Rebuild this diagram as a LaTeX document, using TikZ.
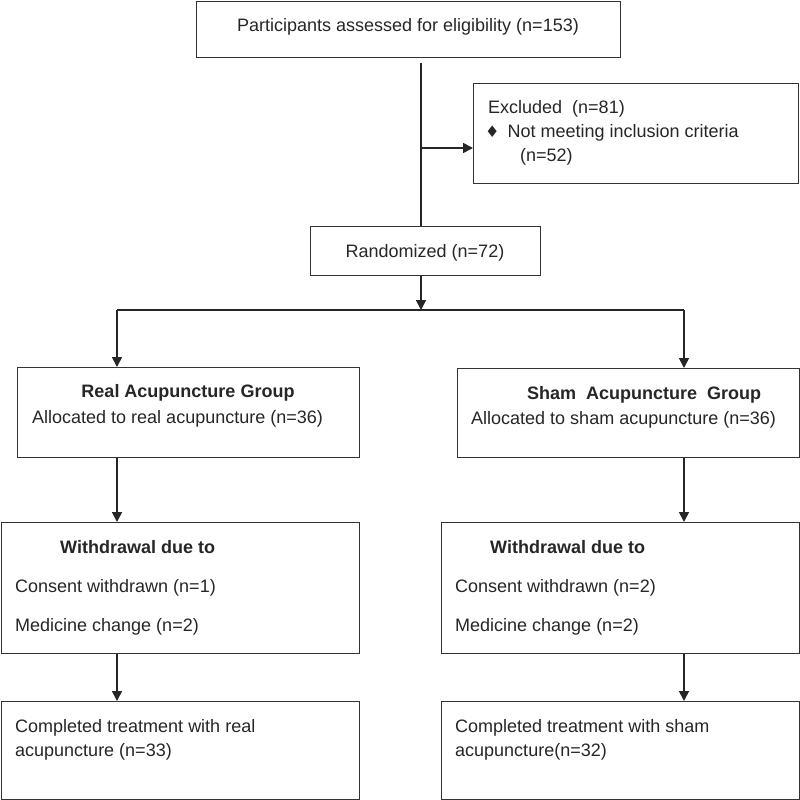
\documentclass[tikz,border=0pt]{standalone}
\usepackage{fontspec}
\setmainfont{Liberation Sans}
\newfontfamily\symfont{DejaVu Sans}
\usetikzlibrary{arrows.meta}
\begin{document}
\begin{tikzpicture}[x=1pt,y=-1pt,
  box/.style={draw=black!80,line width=1.1pt,inner sep=0pt,anchor=north west},
  txt/.style={anchor=base west,inner sep=0pt,text=black!85,font=\fontsize{18}{22}\selectfont},
  ln/.style={draw=black!85,line width=1.7pt},
  arr/.style={ln,-{Triangle[length=10pt,width=10pt]}}]
\useasboundingbox (0,0) rectangle (800,800);
% boxes
\node[box,minimum width=424pt,minimum height=56pt] (top) at (196,1) {};
\node[box,minimum width=325pt,minimum height=100pt] (excl) at (473,83) {};
\node[box,minimum width=230pt,minimum height=49pt] (rand) at (310,226) {};
\node[box,minimum width=342pt,minimum height=90pt] (real) at (17,367) {};
\node[box,minimum width=342pt,minimum height=89pt] (sham) at (457,368) {};
\node[box,minimum width=358pt,minimum height=131pt] (wl) at (1,522) {};
\node[box,minimum width=358pt,minimum height=131pt] (wr) at (441,522) {};
\node[box,minimum width=358pt,minimum height=98pt] (cl) at (1,701) {};
\node[box,minimum width=358pt,minimum height=98pt] (cr) at (441,701) {};
% texts
\node[txt,anchor=base] (t1) at (408,32) {Participants assessed for eligibility (n=153)};
\node[txt] (t2) at (488,113) {Excluded\ \ (n=81)};
\node[txt] (t3) at (485,137) {{\symfont\fontsize{16}{18}\selectfont ♦}\hspace{8pt}Not meeting inclusion criteria};
\node[txt] (t4) at (520,161) {(n=52)};
\node[txt,anchor=base] (t5) at (425,257) {Randomized (n=72)};
\node[txt,anchor=base,font=\fontsize{18}{22}\selectfont\bfseries] (t6) at (188,397) {Real Acupuncture Group};
\node[txt] (t7) at (32,423) {Allocated to real acupuncture (n=36)};
\node[txt,font=\fontsize{18}{22}\selectfont\bfseries] (t8) at (527,399) {Sham\ \ Acupuncture\ \ Group};
\node[txt] (t9) at (471,424) {Allocated to sham acupuncture (n=36)};
\node[txt,font=\fontsize{18}{22}\selectfont\bfseries] (t10) at (60,553) {Withdrawal due to};
\node[txt] (t11) at (15,592) {Consent withdrawn (n=1)};
\node[txt] (t12) at (15,631) {Medicine change (n=2)};
\node[txt,font=\fontsize{18}{22}\selectfont\bfseries] (t13) at (490,553) {Withdrawal due to};
\node[txt] (t14) at (455,592) {Consent withdrawn (n=2)};
\node[txt] (t15) at (455,631) {Medicine change (n=2)};
\node[txt] (t16) at (15,732) {Completed treatment with real};
\node[txt] (t17) at (15,756) {acupuncture (n=33)};
\node[txt] (t18) at (455,732) {Completed treatment with sham};
\node[txt] (t19) at (455,756) {acupuncture(n=32)};
% connectors
\coordinate (s1) at (421,63);
\coordinate (br) at (421,148);
\coordinate (hm) at (421,310);
\coordinate (hl) at (117,310);
\coordinate (hr) at (684,310);
\draw[ln] (s1) -- (s1 |- rand.north);
\draw[arr] (br) -- (br -| excl.west);
\draw[arr] (s1 |- rand.south) -- (hm);
\draw[ln] (hl) -- (hr);
\draw[arr] (hl) -- (hl |- real.north);
\draw[arr] (hr) -- (hr |- sham.north);
\draw[arr] (hl |- real.south) -- (hl |- wl.north);
\draw[arr] (hr |- sham.south) -- (hr |- wr.north);
\draw[arr] (hl |- wl.south) -- (hl |- cl.north);
\draw[arr] (hr |- wr.south) -- (hr |- cr.north);
\end{tikzpicture}
\end{document}
